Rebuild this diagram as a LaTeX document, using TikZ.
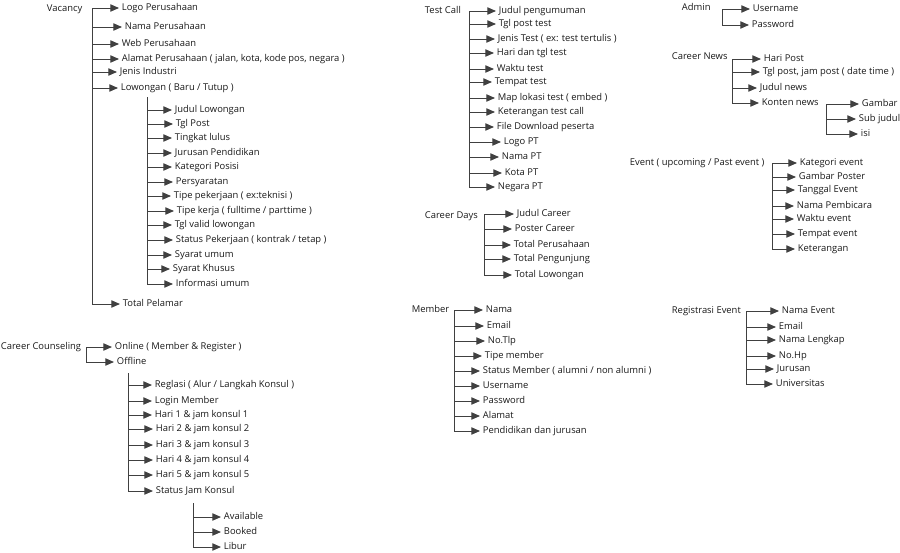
\documentclass[tikz,border=0pt]{standalone}
\usepackage{fontspec}
\setmainfont{Open Sans}
\usetikzlibrary{arrows.meta}

\begin{document}
\begin{tikzpicture}[x=0.75pt, y=-0.75pt, >={Triangle[length=6.5pt, width=5.5pt]},
  every node/.style={anchor=west, inner sep=2pt, text=black!90,
    font=\fontsize{7.05}{8}\selectfont, text height=5.3pt, text depth=1.5pt},
  trunk/.style={draw=black!75, line width=0.75pt},
  link/.style={->, draw=black!75, line width=0.75pt}]
  \useasboundingbox (0,0) rectangle (900,553);

  % Vacancy
  \node (vac) at (44,9) {Vacancy};
  \coordinate (vacT) at (92,8);
  \foreach \i/\x/\y/\txt in {1/119/8/{Logo Perusahaan}, 2/122/27/{Nama Perusahaan},
      3/119/44/{Web Perusahaan},
      4/119/59/{Alamat Perusahaan ( jalan, kota, kode pos, negara )},
      5/117/72/{Jenis Industri}, 6/118/88/{Lowongan ( Baru / Tutup )},
      7/120/304/{Total Pelamar}} {
    \node (v\i) at (\x,\y) {\txt};
    \draw[link] (vacT |- v\i) -- (v\i);
  }
  \draw[trunk] (vacT) -- (vacT |- v7);

  % Lowongan
  \coordinate (lwT) at (147,97);
  \foreach \i/\x/\y/\txt in {1/172/110/{Judul Lowongan}, 2/173/124/{Tgl Post},
      3/172/138/{Tingkat lulus}, 4/172/153/{Jurusan Pendidikan},
      5/172/167/{Kategori Posisi}, 6/173/182/{Persyaratan},
      7/171/196/{Tipe pekerjaan ( ex:teknisi )},
      8/174/211/{Tipe kerja ( fulltime / parttime )},
      9/172/225/{Tgl valid lowongan},
      10/173/240/{Status Pekerjaan ( kontrak / tetap )},
      11/172/255/{Syarat umum}, 12/170/269/{Syarat Khusus},
      13/173/284/{Informasi umum}} {
    \node (lw\i) at (\x,\y) {\txt};
    \draw[link] (lwT |- lw\i) -- (lw\i);
  }
  \draw[trunk] (lwT) -- (lwT |- lw13);

  % Career Counseling
  \node (cc) at (-2,347) {Career Counseling};
  \coordinate (ccT) at (86,347);
  \node (c1) at (112,347) {Online ( Member \& Register )};
  \node (c2) at (114,362) {Offline};
  \draw[trunk] (ccT) -- (ccT |- c2);
  \draw[link] (ccT |- c1) -- (c1);
  \draw[link] (ccT |- c2) -- (c2);

  % Offline
  \coordinate (offT) at (128,373);
  \foreach \i/\x/\y/\txt in {1/152/385/{Reglasi ( Alur / Langkah Konsul )},
      2/152/401/{Login Member}, 3/152/415/{Hari 1 \& jam konsul 1},
      4/153/429/{Hari 2 \& jam konsul 2}, 5/153/445/{Hari 3 \& jam konsul 3},
      6/153/460/{Hari 4 \& jam konsul 4}, 7/153/475/{Hari 5 \& jam konsul 5},
      8/153/491/{Status Jam Konsul}} {
    \node (off\i) at (\x,\y) {\txt};
    \draw[link] (offT |- off\i) -- (off\i);
  }
  \draw[trunk] (offT) -- (offT |- off8);

  % Status Jam Konsul
  \coordinate (stT) at (193,503);
  \foreach \i/\y/\txt in {1/517/Available, 2/532/Booked, 3/547/Libur} {
    \node (st\i) at (221,\y) {\txt};
    \draw[link] (stT |- st\i) -- (st\i);
  }
  \draw[trunk] (stT) -- (stT |- st3);

  % Test Call
  \node (tc) at (422,11) {Test Call};
  \coordinate (tcT) at (469,11);
  \foreach \i/\x/\y/\txt in {1/496/11/{Judul pengumuman}, 2/496/24/{Tgl post test},
      3/495/39/{Jenis Test ( ex: test tertulis )}, 4/494/53/{Hari dan tgl test},
      5/494/69/{Waktu test}, 6/492/82/{Tempat test},
      7/495/98/{Map lokasi test ( embed )}, 8/495/112/{Keterangan test call},
      9/494/127/{File Download peserta}, 10/501/142/{Logo PT},
      11/499/157/{Nama PT}, 12/502/173/{Kota PT}, 13/495/187/{Negara PT}} {
    \node (tc\i) at (\x,\y) {\txt};
    \draw[link] (tcT |- tc\i) -- (tc\i);
  }
  \draw[trunk] (tcT) -- (tcT |- tc13);

  % Career Days
  \node (cd) at (422,216) {Career Days};
  \coordinate (cdT) at (484,214);
  \foreach \i/\x/\y/\txt in {1/514/214/{Judul Career}, 2/512/229/{Poster Career},
      3/511/245/{Total Perusahaan}, 4/511/259/{Total Pengunjung},
      5/512/275/{Total Lowongan}} {
    \node (cd\i) at (\x,\y) {\txt};
    \draw[link] (cdT |- cd\i) -- (cd\i);
  }
  \draw[trunk] (cdT) -- (cdT |- cd5);

  % Member
  \node (mem) at (409,310) {Member};
  \coordinate (memT) at (454,310);
  \foreach \i/\x/\y/\txt in {1/483/310/{Nama}, 2/484/326/{Email}, 3/485/341/{No.Tlp},
      4/482/356/{Tipe member},
      5/480/371/{Status Member ( alumni / non alumni )},
      6/480/386/{Username}, 7/480/401/{Password}, 8/480/416/{Alamat},
      9/480/431/{Pendidikan dan jurusan}} {
    \node (mem\i) at (\x,\y) {\txt};
    \draw[link] (memT |- mem\i) -- (mem\i);
  }
  \draw[trunk] (memT) -- (memT |- mem9);

  % Registrasi Event
  \node (reg) at (669,311) {Registrasi Event};
  \coordinate (regT) at (746,311);
  \foreach \i/\x/\y/\txt in {1/779/311/{Nama Event}, 2/776/327/{Email},
      3/776/340/{Nama Lengkap}, 4/776/356/{No.Hp}, 5/774/369/{Jurusan},
      6/773/384/{Universitas}} {
    \node (reg\i) at (\x,\y) {\txt};
    \draw[link] (regT |- reg\i) -- (reg\i);
  }
  \draw[trunk] (regT) -- (regT |- reg6);

  % Admin
  \node (adm) at (679,8) {Admin};
  \coordinate (admT) at (722,9);
  \node (adm1) at (750,9) {Username};
  \node (adm2) at (749,25) {Password};
  \draw[trunk] (admT) -- (admT |- adm2);
  \draw[link] (admT |- adm1) -- (adm1);
  \draw[link] (admT |- adm2) -- (adm2);

  % Career News
  \node (cn) at (669,57) {Career News};
  \coordinate (cnT) at (732,59);
  \foreach \i/\x/\y/\txt in {1/761/59/{Hari Post},
      2/760/72/{Tgl post, jam post ( date time )},
      3/757/88/{Judul news}, 4/759/103/{Konten news}} {
    \node (cn\i) at (\x,\y) {\txt};
    \draw[link] (cnT |- cn\i) -- (cn\i);
  }
  \draw[trunk] (cnT) -- (cnT |- cn4);

  % Konten news
  \coordinate (knT) at (826,104);
  \foreach \i/\x/\y/\txt in {1/859/104/{Gambar}, 2/856/119/{Sub judul},
      3/858/134/{isi}} {
    \node (kn\i) at (\x,\y) {\txt};
    \draw[link] (knT |- kn\i) -- (kn\i);
  }
  \draw[trunk] (knT) -- (knT |- kn3);

  % Event
  \node (ev) at (627,163) {Event ( upcoming / Past event )};
  \coordinate (evT) at (772,163);
  \foreach \i/\x/\y/\txt in {1/797/163/{Kategori event}, 2/796/177/{Gambar Poster},
      3/795/190/{Tanggal Event}, 4/794/206/{Nama Pembicara},
      5/794/219/{Waktu event}, 6/795/234/{Tempat event},
      7/795/249/{Keterangan}} {
    \node (ev\i) at (\x,\y) {\txt};
    \draw[link] (evT |- ev\i) -- (ev\i);
  }
  \draw[trunk] (evT) -- (evT |- ev7);
\end{tikzpicture}
\end{document}
